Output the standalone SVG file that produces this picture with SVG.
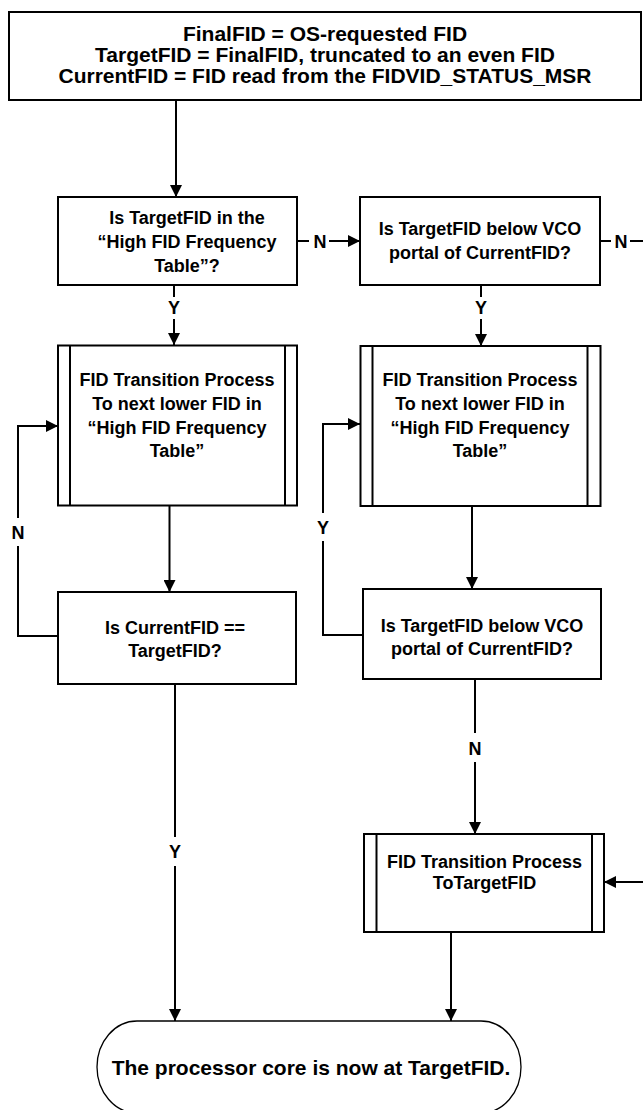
<svg xmlns="http://www.w3.org/2000/svg" width="643" height="1110" viewBox="0 0 643 1110">
<style>
.box{fill:#fff;stroke:#000;stroke-width:2}
.inner{stroke:#000;stroke-width:2}
.term{fill:#fff;stroke:#000;stroke-width:1.3}
.t{font-family:"Liberation Sans",Arial,sans-serif;font-weight:bold;font-size:18px;fill:#000;text-anchor:middle}
.big{font-size:21px}
.c{fill:none;stroke:#000;stroke-width:2}
</style>
<defs>
<marker id="ah" viewBox="0 0 12 12" refX="12" refY="6" markerWidth="12" markerHeight="12" markerUnits="userSpaceOnUse" orient="auto">
<path d="M0,0 L12,6 L0,12 Z" fill="#000"/>
</marker>
</defs>
<rect width="643" height="1110" fill="#fff"/>
<g id="connectors">
<path class="c" d="M176,100 V197" marker-end="url(#ah)"/>
<path class="c" d="M297,241 H309"/>
<path class="c" d="M329,241 H360" marker-end="url(#ah)"/>
<path class="c" d="M600,241 H611"/>
<path class="c" d="M630,241 H643"/>
<path class="c" d="M174,285 V297"/>
<path class="c" d="M174,319 V345" marker-end="url(#ah)"/>
<path class="c" d="M481,285 V297"/>
<path class="c" d="M481,319 V346" marker-end="url(#ah)"/>
<path class="c" d="M169.5,505 V592" marker-end="url(#ah)"/>
<path class="c" d="M472,506 V589" marker-end="url(#ah)"/>
<path class="c" d="M58,636 H18 V546"/>
<path class="c" d="M18,518 V426 H58" marker-end="url(#ah)"/>
<path class="c" d="M363,635 H323 V541"/>
<path class="c" d="M323,513 V424 H360" marker-end="url(#ah)"/>
<path class="c" d="M175,684 V837"/>
<path class="c" d="M175,866 V1021" marker-end="url(#ah)"/>
<path class="c" d="M475,679 V733"/>
<path class="c" d="M475,762 V834" marker-end="url(#ah)"/>
<path class="c" d="M643,882 H604" marker-end="url(#ah)"/>
<path class="c" d="M451,932 V1021" marker-end="url(#ah)"/>
<text class="t" x="320" y="247.5">N</text>
<text class="t" x="621" y="247.5">N</text>
<text class="t" x="174" y="314">Y</text>
<text class="t" x="481" y="314">Y</text>
<text class="t" x="18" y="538.5">N</text>
<text class="t" x="323" y="533.5">Y</text>
<text class="t" x="175" y="858">Y</text>
<text class="t" x="475" y="754.5">N</text>
</g>
<g id="start">
<rect class="box" x="9" y="12" width="632" height="88"/>
<text class="t big" x="325" y="40.5">FinalFID = OS-requested FID</text>
<text class="t big" x="325" y="61.5">TargetFID = FinalFID, truncated to an even FID</text>
<text class="t big" x="325" y="82.5">CurrentFID = FID read from the FIDVID_STATUS_MSR</text>
</g>
<g id="dec-high-table">
<rect class="box" x="58" y="197" width="239" height="88"/>
<text class="t" x="187" y="223.5">Is TargetFID in the</text>
<text class="t" x="187" y="247.5">“High FID Frequency</text>
<text class="t" x="187" y="271.5">Table”?</text>
</g>
<g id="dec-vco-1">
<rect class="box" x="360" y="197" width="240" height="88"/>
<text class="t" x="480" y="235">Is TargetFID below VCO</text>
<text class="t" x="480" y="258.5">portal of CurrentFID?</text>
</g>
<g id="proc-lower-1">
<rect class="box" x="58" y="345.5" width="239" height="160"/>
<line class="inner" x1="70" y1="345.5" x2="70" y2="505.5"/>
<line class="inner" x1="285" y1="345.5" x2="285" y2="505.5"/>
<text class="t" x="177" y="385.5">FID Transition Process</text>
<text class="t" x="177" y="409.5">To next lower FID in</text>
<text class="t" x="177" y="433.5">“High FID Frequency</text>
<text class="t" x="177" y="456.5">Table”</text>
</g>
<g id="proc-lower-2">
<rect class="box" x="360.5" y="346" width="240" height="160"/>
<line class="inner" x1="372.5" y1="346" x2="372.5" y2="506"/>
<line class="inner" x1="587.5" y1="346" x2="587.5" y2="506"/>
<text class="t" x="480" y="385.5">FID Transition Process</text>
<text class="t" x="480" y="409.5">To next lower FID in</text>
<text class="t" x="480" y="433.5">“High FID Frequency</text>
<text class="t" x="480" y="456.5">Table”</text>
</g>
<g id="dec-equal">
<rect class="box" x="58" y="592" width="238" height="92"/>
<text class="t" x="175" y="633.5">Is CurrentFID ==</text>
<text class="t" x="175" y="656.5">TargetFID?</text>
</g>
<g id="dec-vco-2">
<rect class="box" x="363" y="589" width="238" height="90"/>
<text class="t" x="482" y="631.5">Is TargetFID below VCO</text>
<text class="t" x="482" y="654.5">portal of CurrentFID?</text>
</g>
<g id="proc-target">
<rect class="box" x="364" y="834" width="240" height="98"/>
<line class="inner" x1="376.5" y1="834" x2="376.5" y2="932"/>
<line class="inner" x1="592" y1="834" x2="592" y2="932"/>
<text class="t" x="484.5" y="867.5">FID Transition Process</text>
<text class="t" x="484.5" y="889">ToTargetFID</text>
</g>
<g id="end">
<rect class="term" x="97" y="1021" width="424" height="92" rx="40" ry="46"/>
<text class="t big" x="311" y="1074.5">The processor core is now at TargetFID.</text>
</g>
</svg>
